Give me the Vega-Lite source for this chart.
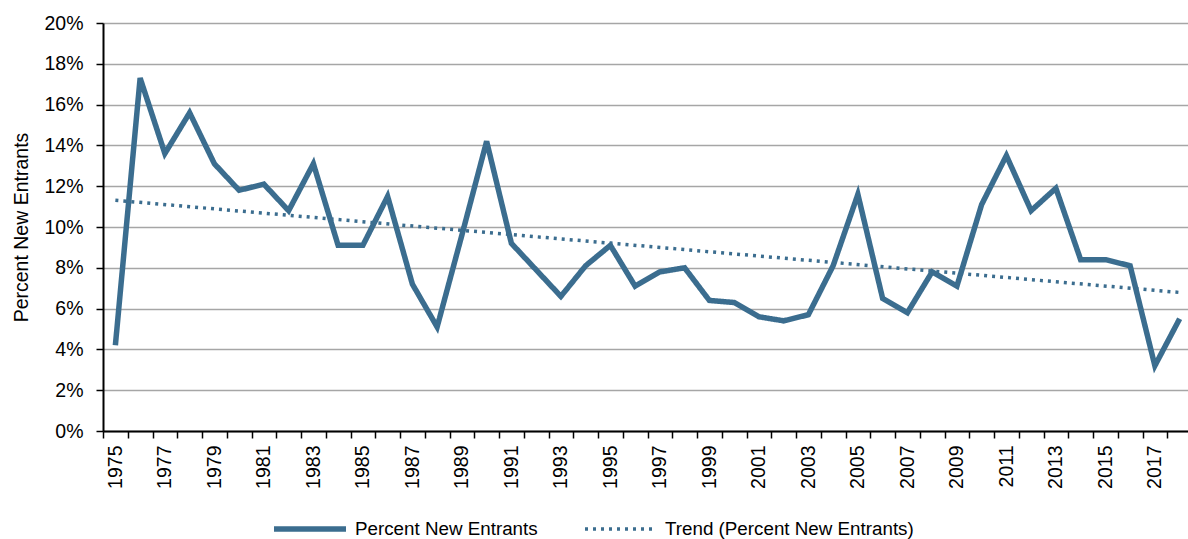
{
  "$schema": "https://vega.github.io/schema/vega-lite/v6.json",
  "width": 1085,
  "height": 408,
  "autosize": {"type": "none"},
  "padding": {"left": 103, "top": 23, "right": 0, "bottom": 108},
  "background": "white",
  "config": {
    "view": {"stroke": null},
    "font": "Liberation Sans, Arial, sans-serif",
    "axis": {
      "labelFont": "Liberation Sans, Arial, sans-serif",
      "titleFont": "Liberation Sans, Arial, sans-serif",
      "labelColor": "#000000",
      "titleColor": "#000000",
      "domainColor": "#000000",
      "tickColor": "#000000"
    },
    "legend": {
      "labelFont": "Liberation Sans, Arial, sans-serif",
      "labelColor": "#000000"
    }
  },
  "data": {
    "values": [
      {"year": 1975, "series": "Percent New Entrants", "value": 0.042},
      {"year": 1976, "series": "Percent New Entrants", "value": 0.173},
      {"year": 1977, "series": "Percent New Entrants", "value": 0.136},
      {"year": 1978, "series": "Percent New Entrants", "value": 0.156},
      {"year": 1979, "series": "Percent New Entrants", "value": 0.131},
      {"year": 1980, "series": "Percent New Entrants", "value": 0.118},
      {"year": 1981, "series": "Percent New Entrants", "value": 0.121},
      {"year": 1982, "series": "Percent New Entrants", "value": 0.108},
      {"year": 1983, "series": "Percent New Entrants", "value": 0.131},
      {"year": 1984, "series": "Percent New Entrants", "value": 0.091},
      {"year": 1985, "series": "Percent New Entrants", "value": 0.091},
      {"year": 1986, "series": "Percent New Entrants", "value": 0.115},
      {"year": 1987, "series": "Percent New Entrants", "value": 0.072},
      {"year": 1988, "series": "Percent New Entrants", "value": 0.051},
      {"year": 1989, "series": "Percent New Entrants", "value": 0.096},
      {"year": 1990, "series": "Percent New Entrants", "value": 0.142},
      {"year": 1991, "series": "Percent New Entrants", "value": 0.092},
      {"year": 1992, "series": "Percent New Entrants", "value": 0.079},
      {"year": 1993, "series": "Percent New Entrants", "value": 0.066},
      {"year": 1994, "series": "Percent New Entrants", "value": 0.081},
      {"year": 1995, "series": "Percent New Entrants", "value": 0.091},
      {"year": 1996, "series": "Percent New Entrants", "value": 0.071},
      {"year": 1997, "series": "Percent New Entrants", "value": 0.078},
      {"year": 1998, "series": "Percent New Entrants", "value": 0.080},
      {"year": 1999, "series": "Percent New Entrants", "value": 0.064},
      {"year": 2000, "series": "Percent New Entrants", "value": 0.063},
      {"year": 2001, "series": "Percent New Entrants", "value": 0.056},
      {"year": 2002, "series": "Percent New Entrants", "value": 0.054},
      {"year": 2003, "series": "Percent New Entrants", "value": 0.057},
      {"year": 2004, "series": "Percent New Entrants", "value": 0.081},
      {"year": 2005, "series": "Percent New Entrants", "value": 0.116},
      {"year": 2006, "series": "Percent New Entrants", "value": 0.065},
      {"year": 2007, "series": "Percent New Entrants", "value": 0.058},
      {"year": 2008, "series": "Percent New Entrants", "value": 0.078},
      {"year": 2009, "series": "Percent New Entrants", "value": 0.071},
      {"year": 2010, "series": "Percent New Entrants", "value": 0.111},
      {"year": 2011, "series": "Percent New Entrants", "value": 0.135},
      {"year": 2012, "series": "Percent New Entrants", "value": 0.108},
      {"year": 2013, "series": "Percent New Entrants", "value": 0.119},
      {"year": 2014, "series": "Percent New Entrants", "value": 0.084},
      {"year": 2015, "series": "Percent New Entrants", "value": 0.084},
      {"year": 2016, "series": "Percent New Entrants", "value": 0.081},
      {"year": 2017, "series": "Percent New Entrants", "value": 0.032},
      {"year": 2018, "series": "Percent New Entrants", "value": 0.055},
      {"year": 1975, "series": "Trend (Percent New Entrants)", "value": 0.1131},
      {"year": 2018, "series": "Trend (Percent New Entrants)", "value": 0.0679}
    ]
  },
  "mark": {"type": "line", "strokeJoin": "miter"},
  "encoding": {
    "x": {
      "field": "year",
      "type": "ordinal",
      "scale": {"type": "band", "paddingInner": 0, "paddingOuter": 0, "range": [0, 1089]},
      "axis": {
        "title": null,
        "grid": false,
        "tickBand": "extent",
        "tickSize": 7,
        "tickWidth": 1.5,
        "domainWidth": 2,
        "labelAngle": -90,
        "labelFontSize": 19.5,
        "labelPadding": 7,
        "labelExpr": "datum.value % 2 == 1 ? datum.label : ''"
      }
    },
    "y": {
      "field": "value",
      "type": "quantitative",
      "scale": {"domain": [0, 0.2], "nice": false},
      "axis": {
        "title": "Percent New Entrants",
        "titleFontSize": 19.5,
        "titleFontWeight": "normal",
        "titlePadding": 12,
        "values": [0, 0.02, 0.04, 0.06, 0.08, 0.1, 0.12, 0.14, 0.16, 0.18, 0.2],
        "format": ".0%",
        "grid": true,
        "gridColor": "#a6a6a6",
        "gridWidth": 1.5,
        "domainWidth": 2,
        "tickSize": 7,
        "tickWidth": 1.5,
        "labelFontSize": 19.5,
        "labelPadding": 13
      }
    },
    "color": {
      "field": "series",
      "type": "nominal",
      "scale": {"range": ["#3b6d8f", "#3b6d8f"]},
      "legend": {
        "title": null,
        "orient": "none",
        "legendX": 168,
        "legendY": 467,
        "direction": "horizontal",
        "symbolType": "stroke",
        "symbolSize": 5184,
        "labelFontSize": 18.8,
        "labelLimit": 400,
        "labelOffset": 6,
        "columnPadding": 40,
        "padding": 0
      }
    },
    "strokeDash": {
      "field": "series",
      "type": "nominal",
      "scale": {"range": [[1, 0], [3, 5]]}
    },
    "strokeWidth": {
      "field": "series",
      "type": "ordinal",
      "scale": {"range": [5.5, 3.5]}
    }
  }
}
